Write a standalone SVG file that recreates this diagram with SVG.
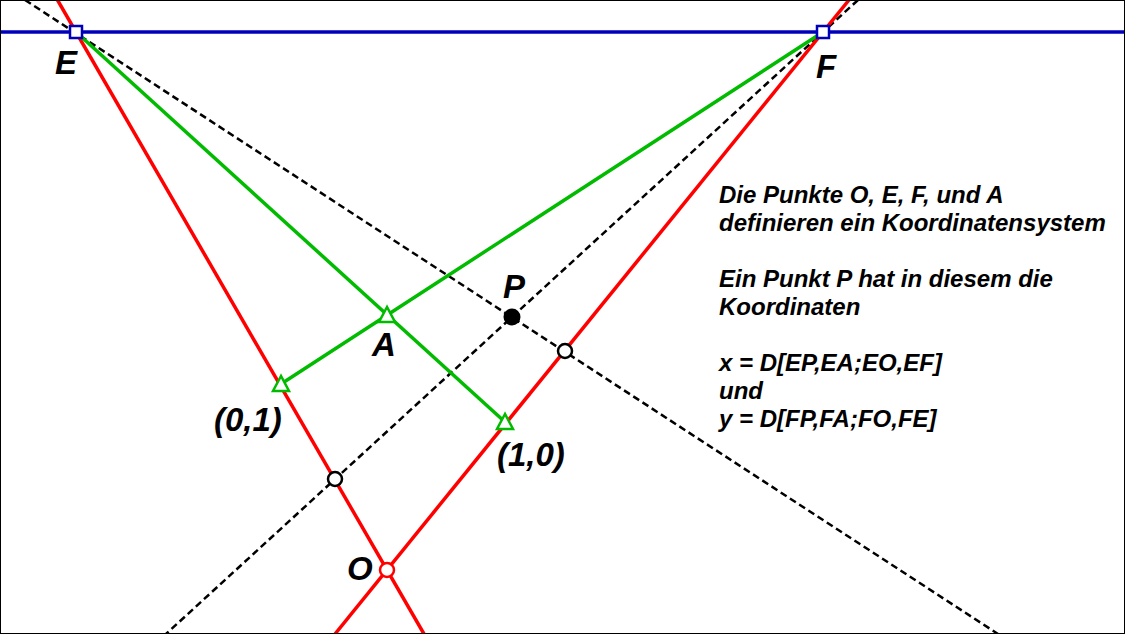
<svg xmlns="http://www.w3.org/2000/svg" width="1125" height="634" viewBox="0 0 1125 634">
<style>
.lbl{font-family:"Liberation Sans",Arial,sans-serif;font-weight:bold;font-style:italic;font-size:33px;fill:#000}
.txt{font-family:"Liberation Sans",Arial,sans-serif;font-weight:bold;font-style:italic;font-size:24px;fill:#000}
.red{stroke:#ff0000;stroke-width:3.5;fill:none}
.grn{stroke:#00bb00;stroke-width:3.5;fill:none}
.blu{stroke:#0000bb;stroke-width:3.5;fill:none}
.dsh{stroke:#000;stroke-width:2.5;stroke-dasharray:7,4;fill:none}
.tri{fill:#fff;stroke:#00bb00;stroke-width:2.5}
.oc{fill:#fff;stroke:#000;stroke-width:2.5}
</style>
<rect x="0" y="0" width="1125" height="634" fill="#fff"/>
<g id="connectors">
<line class="blu" x1="0" y1="32" x2="1125" y2="32"/>
<line class="dsh" x1="25" y1="0" x2="998" y2="634"/>
<line class="dsh" x1="858" y1="0" x2="166" y2="634"/>
<line class="red" x1="57.5" y1="0" x2="424" y2="634"/>
<line class="red" x1="849" y1="0" x2="335" y2="634"/>
<line class="grn" x1="76" y1="32" x2="505" y2="422"/>
<line class="grn" x1="823" y1="32" x2="281" y2="384"/>
</g>
<g id="node-E"><rect x="70" y="26" width="12" height="12" fill="#fff" stroke="#0000bb" stroke-width="2.5"/><text class="lbl" x="55" y="74">E</text></g>
<g id="node-F"><rect x="817" y="26" width="12" height="12" fill="#fff" stroke="#0000bb" stroke-width="2.5"/><text class="lbl" x="816" y="78">F</text></g>
<g id="node-A"><polygon class="tri" points="387,307 379,322 395,322"/><text class="lbl" x="372" y="356">A</text></g>
<g id="node-01"><polygon class="tri" points="281,376 273,391 289,391"/><text class="lbl" x="214" y="431">(0,1)</text></g>
<g id="node-10"><polygon class="tri" points="505,414 497,429 513,429"/><text class="lbl" x="497" y="466">(1,0)</text></g>
<g id="node-P"><circle cx="512" cy="317" r="8.5" fill="#000"/><text class="lbl" x="503" y="298">P</text></g>
<g id="node-Q1"><circle class="oc" cx="565" cy="351" r="7"/></g>
<g id="node-Q2"><circle class="oc" cx="335" cy="479" r="7"/></g>
<g id="node-O"><circle cx="387" cy="570" r="7" fill="#fff" stroke="#ff0000" stroke-width="2.5"/><text class="lbl" x="347" y="580">O</text></g>
<g id="text">
<text class="txt" x="719" y="203">Die Punkte O, E, F, und A</text>
<text class="txt" x="719" y="231">definieren ein Koordinatensystem</text>
<text class="txt" x="719" y="287">Ein Punkt P hat in diesem die</text>
<text class="txt" x="719" y="315">Koordinaten</text>
<text class="txt" x="719" y="371">x = D[EP,EA;EO,EF]</text>
<text class="txt" x="719" y="399">und</text>
<text class="txt" x="719" y="427">y = D[FP,FA;FO,FE]</text>
</g>
<rect x="0.5" y="0.5" width="1124" height="633" fill="none" stroke="#000" stroke-width="1"/>
</svg>
